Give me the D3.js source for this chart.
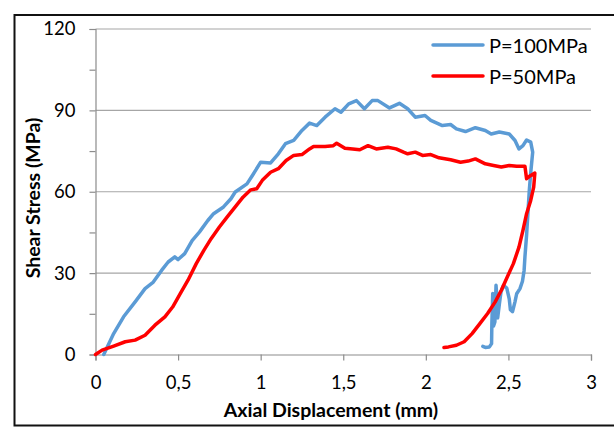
<!DOCTYPE html>
<html><head><meta charset="utf-8">
<script src="https://cdn.jsdelivr.net/npm/d3@7/dist/d3.min.js"></script>
<style>
html,body{margin:0;padding:0;background:#fff;}
svg{display:block;font-family:Lato,"Open Sans",sans-serif;}
</style></head>
<body><svg id="c" width="614" height="427"></svg>
<script>
const xTicks = [0, 0.5, 1, 1.5, 2, 2.5, 3];
const xTickLabels = ["0", "0,5", "1", "1,5", "2", "2,5", "3"];
const yTicks = [0, 15, 30, 45, 60, 75, 90, 105, 120];
const yGrid = [30, 60, 90, 120];
const seriesNames = ["P=100MPa", "P=50MPa"];
const seriesColors = ["#5B9BD5", "#FF0000"];

// P=100MPa : axial displacement (mm)
const blueX = [0.05,0.11,0.17,0.24,0.30,0.35,0.40,0.44,0.48,0.50,0.54,0.585,0.63,0.68,0.715,0.775,0.82,0.846,0.917,0.95,1.0,1.06,1.107,1.15,1.2,1.25,1.296,1.34,1.39,1.45,1.486,1.533,1.58,1.628,1.675,1.71,1.78,1.84,1.89,1.936,1.995,2.03,2.10,2.15,2.185,2.24,2.30,2.36,2.396,2.445,2.505,2.54,2.564,2.588,2.61,2.635,2.647,2.635,2.626,2.618,2.61,2.60,2.595,2.585,2.57,2.55,2.54,2.525,2.512,2.505,2.49,2.47,2.455,2.445,2.435,2.43,2.425,2.418,2.41,2.405,2.40,2.398,2.385,2.36,2.345];
// P=100MPa : shear stress (MPa)
const blueY = [0,7.7,13.9,19.4,24.3,26.7,31,34.1,36,35,37.2,42,45.2,49.4,51.9,54.4,57.4,59.9,62.9,66,70.9,70.6,74,77.7,78.9,82.6,85.3,84.4,87.5,90.6,89.3,92.4,93.6,90.6,93.6,93.6,90.9,92.6,90.6,87.5,88.1,86.3,84.4,84.8,83.2,82.2,83.6,82.6,81.3,82,81.3,78.9,75.8,77,79.1,78.3,74.6,67,60,52,44,36,31,27,24.3,22.4,19.5,15.8,16.5,20.5,24.5,25.5,23,18.5,13.5,21,25.5,12,10.5,22.5,12,4,2.8,2.6,3.0];

// P=50MPa : axial displacement (mm)
const redX = [0,0.04,0.11,0.18,0.24,0.30,0.36,0.42,0.467,0.514,0.56,0.61,0.656,0.70,0.75,0.80,0.846,0.893,0.94,0.976,1.01,1.06,1.107,1.154,1.20,1.25,1.296,1.32,1.39,1.44,1.46,1.51,1.557,1.60,1.65,1.70,1.77,1.82,1.865,1.89,1.936,1.98,2.03,2.08,2.15,2.21,2.256,2.30,2.36,2.41,2.457,2.505,2.55,2.60,2.61,2.635,2.66,2.653,2.635,2.61,2.588,2.564,2.53,2.493,2.457,2.42,2.374,2.327,2.28,2.232,2.185,2.137,2.11];
// P=50MPa : shear stress (MPa)
const redY = [0,1.6,3.1,4.7,5.3,7.1,10.8,13.9,17.5,22.5,27.4,33.5,38.4,42.7,47,50.9,54.4,58,60.7,61.1,64.2,67.2,68.5,71.5,73.4,73.7,75.8,76.7,76.7,77,77.9,76,75.8,75.5,77,75.8,76.4,75.8,74.6,74,74.6,73.4,73.7,72.5,71.8,70.9,71.3,72.1,70.3,69.7,69.1,69.7,69.4,69.4,64.8,66,66.9,61.7,56.8,51.9,45.8,39.6,33.5,28.6,23.7,19.4,15.1,11.4,7.7,4.7,3.4,2.8,2.6];

const svg = d3.select("#c");
const x = d3.scaleLinear().domain([0, 3]).range([95.5, 591]);
const y = d3.scaleLinear().domain([0, 120]).range([354.5, 29]);

// outer frame
svg.append("rect").attr("x", 14.5).attr("y", 15).attr("width", 620).attr("height", 410.5)
  .attr("fill", "none").attr("stroke", "#111").attr("stroke-width", 2);

// gridlines
svg.append("g").selectAll("line").data(yGrid).join("line")
  .attr("x1", x(0)).attr("x2", x(3)).attr("y1", d => y(d)).attr("y2", d => y(d))
  .attr("stroke", "#a6a6a6").attr("stroke-width", 1.2);

// y axis
const yAxis = d3.axisLeft(y).tickValues(yTicks).tickSize(6).tickPadding(14)
  .tickFormat(d => d % 30 === 0 ? d : "");
const gy = svg.append("g").attr("transform", `translate(${x(0)},0)`).call(yAxis);
gy.select(".domain").attr("stroke", "#8c8c8c").attr("stroke-width", 1.2);
gy.selectAll(".tick line").attr("stroke", "#8c8c8c").attr("stroke-width", 1.2);
gy.selectAll(".tick text").attr("font-size", 18.5).attr("fill", "#000").attr("font-family", "Lato");

// x axis
const xAxis = d3.axisBottom(x).tickValues(xTicks).tickSize(6).tickPadding(15)
  .tickFormat((d, i) => xTickLabels[i]);
const gx = svg.append("g").attr("transform", `translate(0,${y(0)})`).call(xAxis);
gx.select(".domain").attr("stroke", "#8c8c8c").attr("stroke-width", 1.2);
gx.selectAll(".tick line").attr("stroke", "#8c8c8c").attr("stroke-width", 1.2);
gx.selectAll(".tick text").attr("font-size", 18.5).attr("fill", "#000").attr("font-family", "Lato");

// axis titles
svg.append("text").attr("x", 331).attr("y", 417).attr("text-anchor", "middle")
  .attr("font-size", 19.5).attr("font-weight", "bold").attr("font-family", "Lato")
  .text("Axial Displacement (mm)");
svg.append("text").attr("transform", "translate(40,198) rotate(-90)").attr("text-anchor", "middle")
  .attr("font-size", 19.5).attr("font-weight", "bold").attr("font-family", "Lato")
  .text("Shear Stress (MPa)");

// series lines
const series = [
  {name: seriesNames[0], color: seriesColors[0], xs: blueX, ys: blueY},
  {name: seriesNames[1], color: seriesColors[1], xs: redX, ys: redY}
];
const line = d3.line().x(d => x(d[0])).y(d => y(d[1]));
series.forEach(s => {
  const pts = s.xs.map((v, i) => [v, s.ys[i]]);
  svg.append("path").datum(pts).attr("d", line).attr("fill", "none")
    .attr("stroke", s.color).attr("stroke-width", 3.5)
    .attr("stroke-linejoin", "round").attr("stroke-linecap", "round");
});

// legend
const lg = svg.append("g");
series.forEach((s, i) => {
  const ly = 45 + i * 31;
  lg.append("line").attr("x1", 433).attr("x2", 483).attr("y1", ly).attr("y2", ly)
    .attr("stroke", s.color).attr("stroke-width", 3.5).attr("stroke-linecap", "round");
  lg.append("text").attr("x", 489).attr("y", ly + 7.5).attr("font-size", 20)
    .attr("font-family", "Lato").attr("fill", "#000").text(s.name);
});
</script></body></html>
